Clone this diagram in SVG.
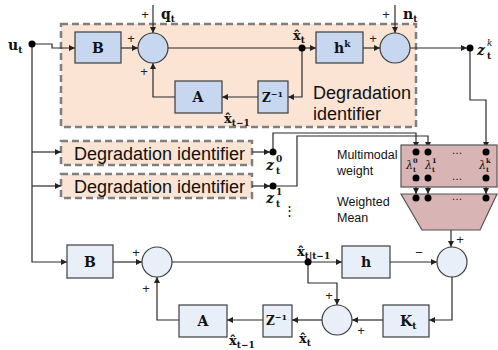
<svg xmlns="http://www.w3.org/2000/svg" width="498" height="350" viewBox="0 0 498 350">
  <defs>
    <marker id="ah" viewBox="0 0 6 6" refX="6" refY="3" markerWidth="6" markerHeight="6" markerUnits="userSpaceOnUse" orient="auto">
      <path d="M0,0 L6,3 L0,6 z" fill="#222"/>
    </marker>
    <style>
      .ln { fill: none; stroke: #2a2a2a; stroke-width: 1.2; }
      .ar { fill: none; stroke: #2a2a2a; stroke-width: 1.2; marker-end: url(#ah); }
      .blk { fill: #c6d7ef; stroke: #3c3c3c; stroke-width: 1.2; }
      .blk2 { fill: #e9eff9; stroke: #3c3c3c; stroke-width: 1.2; }
      .dash { fill: #fbe4d4; stroke: #7f7f7f; stroke-width: 2.5; stroke-dasharray: 7 4; }
      .mm { fill: #d8b4b4; stroke: #555; stroke-width: 1.2; }
      .dot { fill: #000; }
      .m { font-family: "DejaVu Serif", "Liberation Serif", serif; font-weight: bold; fill: #111; }
      .mi { font-family: "DejaVu Serif", "Liberation Serif", serif; font-style: italic; fill: #111; }
      .s { font-family: "Liberation Sans", Arial, sans-serif; fill: #111; }
      .pm { font-family: "Liberation Sans", Arial, sans-serif; font-size: 13px; fill: #222; }
    </style>
  </defs>

  <!-- detailed degradation identifier (top) -->
  <g id="ident-main">
    <rect class="dash" x="61" y="24" width="355" height="103"/>
    <text class="s" x="313" y="99" font-size="18">Degradation</text>
    <text class="s" x="313" y="120" font-size="18">identifier</text>
  </g>
  <g id="ident-1">
    <rect class="dash" x="61" y="141" width="191" height="24"/>
    <text class="s" x="74" y="160" font-size="18">Degradation identifier</text>
  </g>
  <g id="ident-2">
    <rect class="dash" x="61" y="174" width="191" height="24"/>
    <text class="s" x="74" y="193" font-size="18">Degradation identifier</text>
  </g>

  <!-- connectors -->
  <g id="connectors">
    <!-- top identifier -->
    <path class="ar" d="M32,44 H52 V48 H75"/>
    <path class="ar" d="M121,48 H138"/>
    <path class="ar" d="M153,5 V33"/>
    <path class="ln" d="M168,48 H302"/>
    <path class="ar" d="M302,48 H316"/>
    <path class="ar" d="M363,48 H380"/>
    <path class="ar" d="M395,5 V33"/>
    <path class="ar" d="M410,48 H467"/>
    <path class="ar" d="M302,48 V97 H288"/>
    <path class="ar" d="M258,97 H222"/>
    <path class="ar" d="M175,97 H153 V63"/>
    <path class="ar" d="M470,48 V100 H486 V148"/>
    <!-- input bus -->
    <path class="ar" d="M32,44 V262 H67"/>
    <path class="ar" d="M32,152 H61"/>
    <path class="ar" d="M32,186 H61"/>
    <!-- small identifiers to weights -->
    <path class="ar" d="M252,152 H270"/>
    <path class="ar" d="M252,186 H270"/>
    <path class="ar" d="M273,152 V133 H416 V148"/>
    <path class="ar" d="M273,186 H297 V136 H428 V148"/>
    <!-- weights to mean -->
    <path class="ar" d="M416,178 V194"/>
    <path class="ar" d="M428,178 V194"/>
    <path class="ar" d="M486,178 V194"/>
    <path class="ar" d="M451,230 V247"/>
    <!-- filter loop (bottom) -->
    <path class="ar" d="M113,262 H142"/>
    <path class="ln" d="M172,262 H308"/>
    <path class="ar" d="M308,262 H342"/>
    <path class="ar" d="M390,262 H437"/>
    <path class="ar" d="M452,277 V320 H429"/>
    <path class="ar" d="M383,320 H352"/>
    <path class="ar" d="M308,262 V283 H337 V305"/>
    <path class="ar" d="M322,320 H292"/>
    <path class="ar" d="M263,320 H227"/>
    <path class="ar" d="M179,320 H157 V277"/>
  </g>

  <!-- top blocks -->
  <g id="B-top"><rect class="blk" x="75" y="32" width="46" height="31"/><text class="m" x="98" y="53" font-size="14" text-anchor="middle">B</text></g>
  <g id="sum-top"><circle class="blk" cx="153" cy="48" r="15"/></g>
  <g id="hk-top"><rect class="blk" x="316" y="32" width="47" height="31"/><text class="m" x="334" y="53" font-size="14">h<tspan font-size="9" dy="-6">k</tspan></text></g>
  <g id="noise-sum"><circle class="blk" cx="395" cy="48" r="15"/></g>
  <g id="Z-top"><rect class="blk" x="258" y="81" width="30" height="32"/><text class="m" x="262" y="102" font-size="12">Z<tspan font-size="8" dy="-5">−1</tspan></text></g>
  <g id="A-top"><rect class="blk" x="175" y="81" width="47" height="32"/><text class="m" x="198" y="102" font-size="14" text-anchor="middle">A</text></g>

  <!-- weighting -->
  <g id="weights">
    <rect class="mm" x="401" y="145" width="96" height="42"/>
    <circle class="dot" cx="416" cy="152" r="3.5"/><circle class="dot" cx="428" cy="152" r="3.5"/><circle class="dot" cx="486" cy="152" r="3.5"/>
    <circle class="dot" cx="416" cy="178" r="3.5"/><circle class="dot" cx="428" cy="178" r="3.5"/><circle class="dot" cx="486" cy="178" r="3.5"/>
    <text class="mi" x="406" y="169" font-size="11">λ</text><text class="m" x="413" y="163" font-size="6.5">0</text><text class="m" x="413" y="172" font-size="6.5">t</text>
    <text class="mi" x="425" y="169" font-size="11">λ</text><text class="m" x="432" y="163" font-size="6.5">1</text><text class="m" x="432" y="172" font-size="6.5">t</text>
    <text class="mi" x="479" y="169" font-size="11">λ</text><text class="m" x="486" y="163" font-size="6.5">k</text><text class="m" x="486" y="172" font-size="6.5">t</text>
    <text class="s" x="457" y="154" font-size="11" text-anchor="middle">…</text>
    <text class="s" x="457" y="180" font-size="11" text-anchor="middle">…</text>
    <text class="s" x="337" y="159" font-size="12.5">Multimodal</text>
    <text class="s" x="337" y="175" font-size="12.5">weight</text>
  </g>
  <g id="mean">
    <polygon class="mm" points="401,194 497,194 480,230 422,230"/>
    <circle class="dot" cx="416" cy="198" r="3.5"/><circle class="dot" cx="428" cy="198" r="3.5"/><circle class="dot" cx="486" cy="198" r="3.5"/>
    <text class="s" x="457" y="200" font-size="11" text-anchor="middle">…</text>
    <text class="s" x="337" y="206" font-size="12.5">Weighted</text>
    <text class="s" x="337" y="222" font-size="12.5">Mean</text>
  </g>

  <!-- bottom blocks -->
  <g id="B-bot"><rect class="blk2" x="67" y="245" width="46" height="33"/><text class="m" x="90" y="267" font-size="14" text-anchor="middle">B</text></g>
  <g id="sum-bot"><circle class="blk2" cx="157" cy="262" r="15"/></g>
  <g id="h-bot"><rect class="blk2" x="342" y="246" width="48" height="32"/><text class="m" x="366" y="267" font-size="14" text-anchor="middle">h</text></g>
  <g id="innov"><circle class="blk2" cx="452" cy="262" r="15"/></g>
  <g id="K-bot"><rect class="blk2" x="383" y="305" width="46" height="32"/><text class="m" x="400" y="326" font-size="14">K<tspan font-size="9" dy="3">t</tspan></text></g>
  <g id="update"><circle class="blk2" cx="337" cy="320" r="15"/></g>
  <g id="Z-bot"><rect class="blk2" x="263" y="305" width="29" height="32"/><text class="m" x="266" y="325" font-size="12">Z<tspan font-size="8" dy="-5">−1</tspan></text></g>
  <g id="A-bot"><rect class="blk2" x="179" y="305" width="48" height="32"/><text class="m" x="203" y="326" font-size="14" text-anchor="middle">A</text></g>

  <!-- junction dots -->
  <g id="junctions">
    <circle class="dot" cx="32" cy="44" r="3.5"/>
    <circle class="dot" cx="302" cy="48" r="3.5"/>
    <circle class="dot" cx="470" cy="48" r="3.5"/>
    <circle class="dot" cx="273" cy="152" r="3.5"/>
    <circle class="dot" cx="273" cy="186" r="3.5"/>
    <circle class="dot" cx="308" cy="262" r="3.5"/>
  </g>

  <!-- signal labels -->
  <g id="labels">
    <text class="m" x="8" y="50" font-size="14">u<tspan font-size="9" dy="3">t</tspan></text>
    <text class="m" x="161" y="19" font-size="14">q<tspan font-size="9" dy="3">t</tspan></text>
    <text class="m" x="403" y="19" font-size="14">n<tspan font-size="9" dy="3">t</tspan></text>
    <text class="m" x="293" y="40" font-size="13">x̂<tspan font-size="9" dy="3">t</tspan></text>
    <text class="m" x="224" y="123" font-size="13">x̂<tspan font-size="9" dy="3">t−1</tspan></text>
    <text class="m" x="477" y="55" font-size="14" font-style="italic">z</text><text class="m" x="487" y="59" font-size="9">t</text><text class="mi" x="487" y="46" font-size="9">k</text>
    <text class="m" x="266" y="170" font-size="14" font-style="italic">z</text><text class="m" x="276" y="174" font-size="9">t</text><text class="m" x="276" y="162" font-size="9">0</text>
    <text class="m" x="266" y="203" font-size="14" font-style="italic">z</text><text class="m" x="276" y="207" font-size="9">t</text><text class="m" x="276" y="195" font-size="9">1</text>
    <text class="s" x="289" y="215" font-size="13" text-anchor="middle">⋮</text>
    <text class="m" x="297" y="256" font-size="13">x̂<tspan font-size="9" dy="3">t|t−1</tspan></text>
    <text class="m" x="299" y="343" font-size="13">x̂<tspan font-size="9" dy="3">t</tspan></text>
    <text class="m" x="229" y="345" font-size="13">x̂<tspan font-size="9" dy="3">t−1</tspan></text>
  </g>

  <!-- sign marks at summing junctions -->
  <g id="signs">
    <text class="pm" x="131" y="43" text-anchor="middle">+</text>
    <text class="pm" x="145" y="19" text-anchor="middle">+</text>
    <text class="pm" x="144" y="76" text-anchor="middle">+</text>
    <text class="pm" x="373" y="43" text-anchor="middle">+</text>
    <text class="pm" x="386" y="19" text-anchor="middle">+</text>
    <text class="pm" x="136" y="257" text-anchor="middle">+</text>
    <text class="pm" x="146" y="293" text-anchor="middle">+</text>
    <text class="pm" x="419" y="257" text-anchor="middle">−</text>
    <text class="pm" x="460" y="244" text-anchor="middle">+</text>
    <text class="pm" x="329" y="300" text-anchor="middle">+</text>
    <text class="pm" x="361" y="335" text-anchor="middle">+</text>
  </g>
</svg>
